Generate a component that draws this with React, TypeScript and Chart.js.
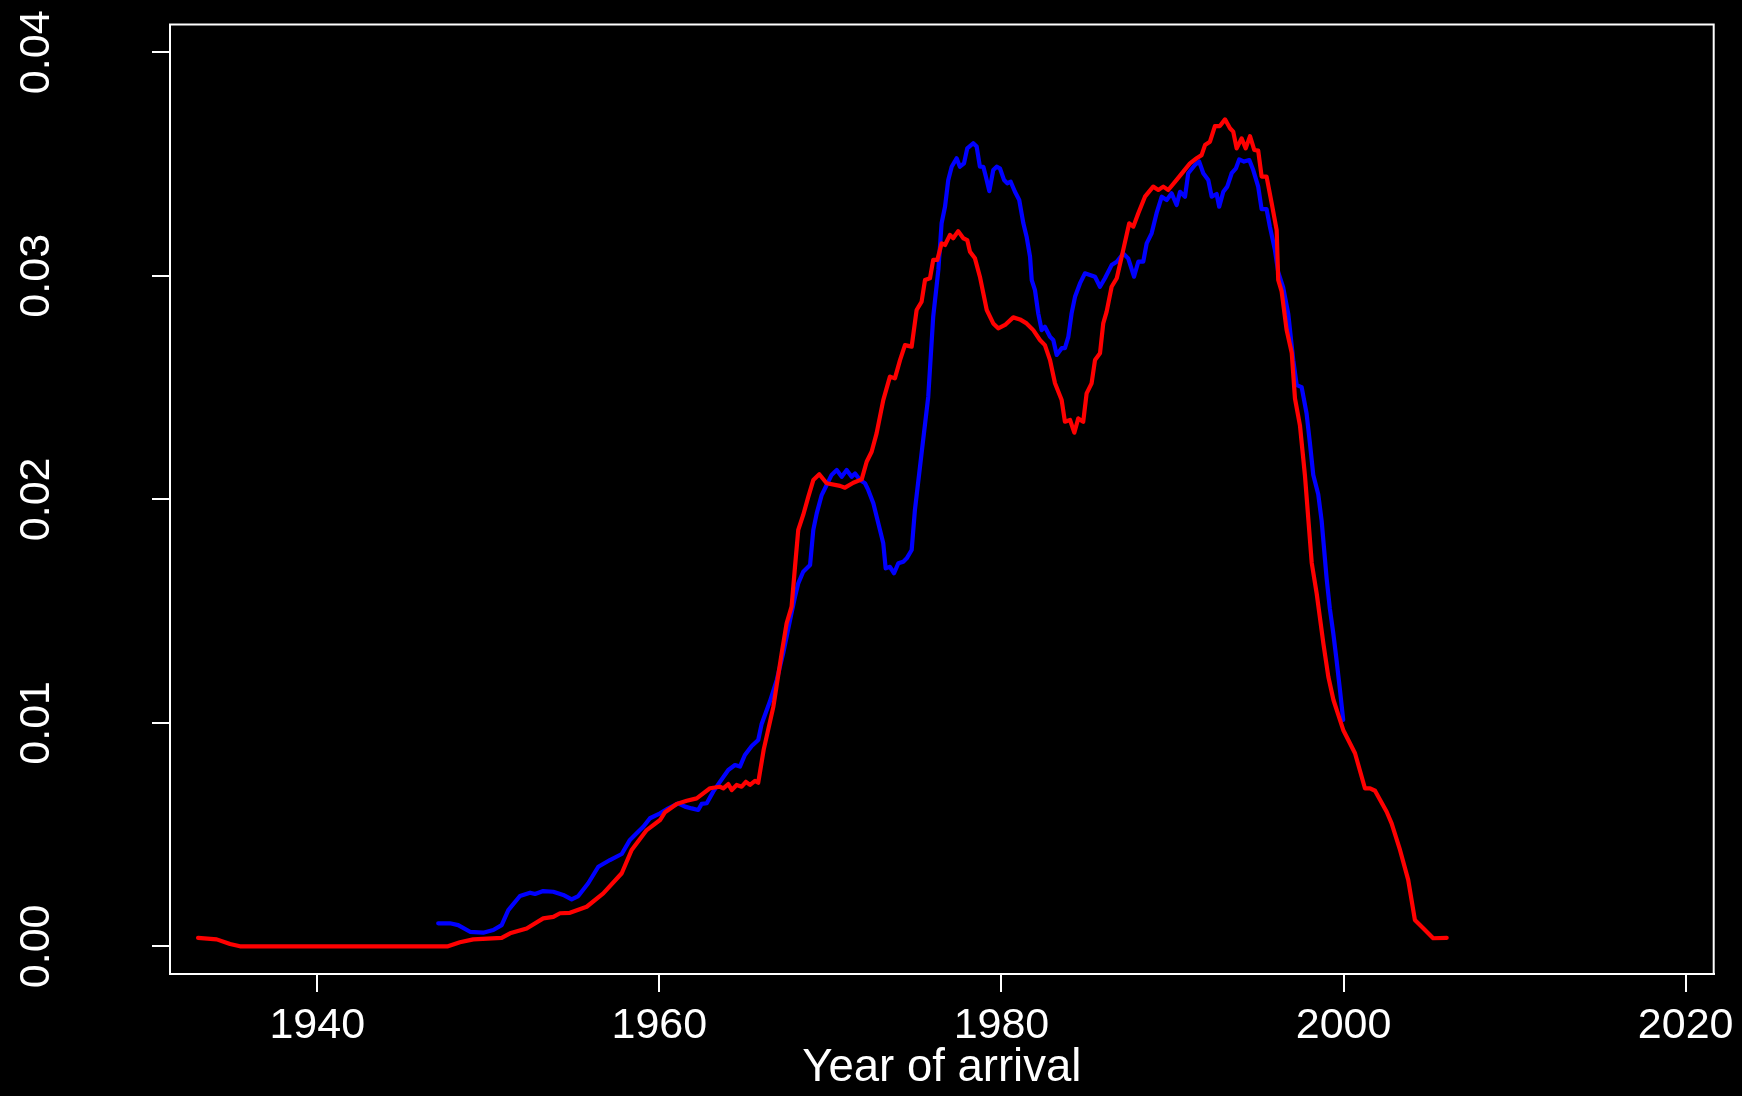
import React, { useEffect, useRef } from "react";
import { Chart, registerables } from "chart.js";

Chart.register(...registerables);

const xTicks = [1940, 1960, 1980, 2000, 2020];
const yTicks = [0, 0.01, 0.02, 0.03, 0.04];

const redYears = [
  1933.03, 1934.12, 1934.9, 1935.48, 1947.64, 1948.34, 1949.12, 1950.78, 1951.27, 1952.24,
  1953.21, 1953.8, 1954.19, 1954.77, 1955.75, 1956.72, 1957.8, 1958.38, 1959.26, 1960.04,
  1960.33, 1961.01, 1961.6, 1962.18, 1962.96, 1963.54, 1963.74, 1964.03, 1964.23, 1964.52,
  1964.81, 1965.06, 1965.3, 1965.59, 1965.78, 1966.1, 1966.66, 1967.15, 1967.44, 1967.73,
  1967.93, 1968.12, 1968.41, 1968.71, 1969.0, 1969.35, 1969.78, 1970.56, 1970.85, 1971.34,
  1971.83, 1972.12, 1972.41, 1972.7, 1973.09, 1973.48, 1973.77, 1974.07, 1974.36, 1974.75,
  1975.04, 1975.33, 1975.53, 1975.82, 1976.01, 1976.25, 1976.5, 1976.7, 1976.99, 1977.18,
  1977.47, 1977.77, 1978.0, 1978.16, 1978.45, 1978.74, 1979.14, 1979.52, 1979.81, 1980.21,
  1980.69, 1981.08, 1981.47, 1981.86, 1982.25, 1982.54, 1982.84, 1983.13, 1983.52, 1983.71,
  1984.01, 1984.26, 1984.49, 1984.78, 1984.98, 1985.27, 1985.47, 1985.76, 1985.95, 1986.15,
  1986.44, 1986.74, 1987.12, 1987.47, 1987.71, 1988.0, 1988.39, 1988.87, 1989.17, 1989.46,
  1989.75, 1990.24, 1990.63, 1991.02, 1991.41, 1991.7, 1991.9, 1992.19, 1992.48, 1992.77,
  1993.07, 1993.36, 1993.55, 1993.75, 1994.04, 1994.28, 1994.53, 1994.78, 1995.01, 1995.21,
  1995.5, 1995.8, 1996.09, 1996.18, 1996.38, 1996.67, 1996.97, 1997.16, 1997.45, 1997.74,
  1998.14, 1998.43, 1998.82, 1999.11, 1999.41, 1999.98, 2000.67, 2001.25, 2001.55, 2001.84,
  2002.52, 2002.81, 2003.3, 2003.78, 2004.17, 2004.66, 2005.24, 2006.03,
];
const redValues = [
  0.00038, 0.00031, 0.0001, 0, 0, 0.00018, 0.00031, 0.00038, 0.00058, 0.0008,
  0.00125, 0.00132, 0.00148, 0.0015, 0.00177, 0.00237, 0.00327, 0.00431, 0.0052, 0.00565,
  0.006, 0.00637, 0.00651, 0.00662, 0.00707, 0.00714, 0.00707, 0.00726, 0.00699, 0.00722,
  0.00714, 0.00736, 0.00722, 0.0074, 0.00732, 0.0088, 0.0107, 0.01311, 0.01445, 0.0152,
  0.01698, 0.01863, 0.0193, 0.02012, 0.02086, 0.02112, 0.02072, 0.0206, 0.02052, 0.02074,
  0.02089, 0.02168, 0.02213, 0.02295, 0.02444, 0.02549, 0.02541, 0.02623, 0.0269, 0.02683,
  0.02847, 0.02884, 0.02981, 0.02989, 0.03071, 0.03071, 0.03145, 0.03138, 0.03183, 0.03168,
  0.032, 0.03168, 0.0316, 0.03108, 0.03078, 0.02996, 0.02847, 0.02787, 0.02765, 0.0278,
  0.02814, 0.02805, 0.02787, 0.02757, 0.02713, 0.0269, 0.02623, 0.02519, 0.02444, 0.02347,
  0.02355, 0.02298, 0.02362, 0.02347, 0.02474, 0.02519, 0.02623, 0.02653, 0.02787, 0.0284,
  0.02951, 0.02989, 0.03116, 0.03235, 0.0322, 0.0328, 0.03354, 0.03399, 0.03384, 0.03399,
  0.03384, 0.03429, 0.03466, 0.03503, 0.03526, 0.0354, 0.03585, 0.036, 0.0367, 0.0367,
  0.037, 0.0366, 0.03645, 0.0357, 0.03615, 0.0357, 0.03625, 0.03563, 0.0356, 0.03444,
  0.03444, 0.03324, 0.03204, 0.02982, 0.0293, 0.02759, 0.02656, 0.02451, 0.02331, 0.02109,
  0.01715, 0.01578, 0.01355, 0.01206, 0.01102, 0.00968, 0.00864, 0.00707, 0.00707, 0.00696,
  0.00602, 0.0055, 0.00431, 0.00297, 0.00118, 0.00081, 0.00036, 0.00038,
];

const blueYears = [
  1947.07, 1947.76, 1948.24, 1948.93, 1949.7, 1950.29, 1950.78, 1951.17, 1951.85, 1952.44,
  1952.73, 1953.21, 1953.8, 1954.38, 1954.87, 1955.26, 1955.84, 1956.43, 1957.11, 1957.8,
  1958.28, 1958.57, 1959.06, 1959.45, 1960.04, 1960.52, 1961.11, 1961.5, 1961.89, 1962.27,
  1962.47, 1962.77, 1963.15, 1963.54, 1964.03, 1964.42, 1964.71, 1965.0, 1965.4, 1965.78,
  1965.98, 1966.46, 1966.86, 1967.24, 1967.64, 1967.93, 1968.12, 1968.41, 1968.81, 1969.0,
  1969.2, 1969.49, 1969.78, 1970.07, 1970.37, 1970.66, 1970.95, 1971.24, 1971.44, 1971.73,
  1972.02, 1972.21, 1972.51, 1972.8, 1973.09, 1973.23, 1973.48, 1973.72, 1973.97, 1974.26,
  1974.46, 1974.75, 1974.94, 1975.33, 1975.72, 1976.01, 1976.31, 1976.5, 1976.7, 1976.89,
  1977.09, 1977.38, 1977.57, 1977.81, 1978.0, 1978.35, 1978.55, 1978.74, 1978.94, 1979.09,
  1979.29, 1979.52, 1979.72, 1979.91, 1980.15, 1980.34, 1980.54, 1980.79, 1981.04, 1981.28,
  1981.47, 1981.67, 1981.77, 1981.96, 1982.15, 1982.35, 1982.54, 1982.84, 1983.03, 1983.23,
  1983.52, 1983.71, 1983.91, 1984.1, 1984.3, 1984.59, 1984.88, 1985.17, 1985.47, 1985.76,
  1986.05, 1986.44, 1986.74, 1987.12, 1987.41, 1987.75, 1988.0, 1988.29, 1988.49, 1988.78,
  1989.07, 1989.37, 1989.66, 1989.95, 1990.24, 1990.44, 1990.73, 1990.92, 1991.31, 1991.56,
  1991.8, 1992.09, 1992.29, 1992.58, 1992.73, 1992.97, 1993.2, 1993.46, 1993.71, 1993.9,
  1994.18, 1994.49, 1994.72, 1995.01, 1995.21, 1995.5, 1995.69, 1995.98, 1996.18, 1996.47,
  1996.77, 1997.06, 1997.26, 1997.55, 1997.84, 1998.04, 1998.23, 1998.52, 1998.72, 1999.01,
  1999.2, 1999.4, 1999.59, 1999.79, 1999.98,
];
const blueValues = [
  0.00103, 0.00103, 0.00095, 0.00065, 0.00061, 0.00073, 0.00095, 0.00162, 0.00225, 0.0024,
  0.00234, 0.00247, 0.00244, 0.0023, 0.0021, 0.00225, 0.00282, 0.00356, 0.00386, 0.00413,
  0.00476, 0.00498, 0.00535, 0.00573, 0.00595, 0.00617, 0.0064, 0.00625, 0.00617, 0.0061,
  0.00637, 0.0064, 0.00692, 0.00736, 0.00789, 0.00811, 0.00804, 0.00856, 0.00896, 0.00923,
  0.00995, 0.01095, 0.01191, 0.01311, 0.0146, 0.01564, 0.01624, 0.01676, 0.01706, 0.01863,
  0.01937, 0.02019, 0.02064, 0.02109, 0.02131, 0.02101, 0.02131, 0.02101, 0.02116, 0.02086,
  0.02072, 0.02042, 0.01982, 0.01893, 0.01803, 0.01691, 0.01698, 0.01669, 0.01714, 0.01721,
  0.01736, 0.01773, 0.01952, 0.02206, 0.02459, 0.02817, 0.03026, 0.03235, 0.03309, 0.03429,
  0.03488, 0.03526, 0.03488, 0.03503, 0.0357, 0.03593, 0.03578, 0.03488, 0.03488, 0.03443,
  0.03379, 0.03473, 0.03488, 0.03481, 0.03429, 0.03414, 0.03421, 0.03376, 0.03339, 0.03235,
  0.03175, 0.03086, 0.02981, 0.02936, 0.02832, 0.02757, 0.02772, 0.02727, 0.02713, 0.02646,
  0.02676, 0.02676, 0.02727, 0.02832, 0.02906, 0.02966, 0.03011, 0.03004, 0.02996, 0.02951,
  0.02989, 0.03048, 0.03063, 0.031, 0.03078, 0.02996, 0.03063, 0.03063, 0.03145, 0.0319,
  0.0328, 0.03354, 0.03339, 0.03369, 0.03317, 0.03376, 0.03354, 0.03459, 0.03496, 0.03511,
  0.03459, 0.03429, 0.03354, 0.03366, 0.03309, 0.03376, 0.03399, 0.03459, 0.03481, 0.03521,
  0.03511, 0.03518, 0.03473, 0.03399, 0.03298, 0.03298, 0.03221, 0.03119, 0.03016, 0.02948,
  0.02828, 0.02622, 0.02511, 0.02502, 0.02383, 0.02246, 0.02109, 0.02023, 0.01903, 0.01646,
  0.0151, 0.014, 0.01281, 0.01147, 0.01013,
];

const X_MIN = 1931.39;
const X_MAX = 2021.64;
const Y_MIN = -0.001239;
const Y_MAX = 0.041244;

const FONT = "'Liberation Sans', Arial, Helvetica, sans-serif";

export default function App() {
  const ref = useRef<HTMLCanvasElement>(null);

  useEffect(() => {
    if (!ref.current) return;
    const bgPlugin = {
      id: "bg",
      beforeDraw(chart: any) {
        const ctx = chart.ctx;
        ctx.save();
        ctx.fillStyle = "#000000";
        ctx.fillRect(0, 0, chart.width, chart.height);
        ctx.restore();
      },
      afterDraw(chart: any) {
        const { ctx, chartArea } = chart;
        ctx.save();
        ctx.strokeStyle = "#ffffff";
        ctx.lineWidth = 2;
        ctx.strokeRect(chartArea.left, chartArea.top, chartArea.right - chartArea.left, chartArea.bottom - chartArea.top);
        ctx.restore();
      },
    };

    const chart = new Chart(ref.current, {
      type: "line",
      data: {
        datasets: [
          {
            label: "red",
            data: redYears.map((x, i) => ({ x, y: redValues[i] })),
            borderColor: "#ff0000",
            borderWidth: 4.2,
            pointRadius: 0,
            tension: 0,
            fill: false,
            borderJoinStyle: "round",
            borderCapStyle: "round",
          },
          {
            label: "blue",
            data: blueYears.map((x, i) => ({ x, y: blueValues[i] })),
            borderColor: "#0000ff",
            borderWidth: 4.2,
            pointRadius: 0,
            tension: 0,
            fill: false,
            borderJoinStyle: "round",
            borderCapStyle: "round",
          },
        ],
      },
      options: {
        responsive: false,
        animation: false,
        devicePixelRatio: 1,
        layout: { padding: { left: 0, top: 24.5, right: 28.3, bottom: 0 } },
        plugins: { legend: { display: false }, tooltip: { enabled: false } },
        scales: {
          x: {
            type: "linear",
            position: "bottom",
            min: X_MIN,
            max: X_MAX,
            afterBuildTicks: (scale: any) => {
              scale.ticks = xTicks.map((v) => ({ value: v }));
            },
            afterFit: (scale: any) => {
              scale.height = 122;
              scale.paddingLeft = 0;
              scale.paddingRight = 0;
            },
            ticks: {
              autoSkip: false,
              color: "#ffffff",
              font: { family: FONT, size: 43 },
              padding: 8.6,
              maxRotation: 0,
              minRotation: 0,
              callback: (v: any) => String(v),
            },
            grid: {
              display: true,
              drawOnChartArea: false,
              drawTicks: true,
              tickLength: 18,
              color: "#ffffff",
              lineWidth: 2,
            },
            border: { display: true, color: "#ffffff", width: 2 },
            title: {
              display: true,
              text: "Year of arrival",
              color: "#ffffff",
              font: { family: FONT, size: 45.5 },
              padding: { top: 0, bottom: 0.5 },
            },
          },
          y: {
            type: "linear",
            position: "left",
            min: Y_MIN,
            max: Y_MAX,
            afterBuildTicks: (scale: any) => {
              scale.ticks = yTicks.map((v) => ({ value: v }));
            },
            afterFit: (scale: any) => {
              scale.width = 170;
              scale.paddingTop = 0;
              scale.paddingBottom = 0;
            },
            ticks: {
              autoSkip: false,
              color: "#ffffff",
              font: { family: FONT, size: 43 },
              padding: 73,
              minRotation: 90,
              maxRotation: 90,
              crossAlign: "center",
              callback: (v: any) => Number(v).toFixed(2),
            },
            grid: {
              display: true,
              drawOnChartArea: false,
              drawTicks: true,
              tickLength: 18,
              color: "#ffffff",
              lineWidth: 2,
            },
            border: { display: true, color: "#ffffff", width: 2 },
          },
        },
      },
      plugins: [bgPlugin],
    } as any);
    return () => chart.destroy();
  }, []);

  return (
    <div style={{ position: "absolute", left: 0, top: 0, width: 1742, height: 1096, background: "#000" }}>
      <canvas ref={ref} width={1742} height={1096} style={{ display: "block", width: 1742, height: 1096 }} />
    </div>
  );
}
